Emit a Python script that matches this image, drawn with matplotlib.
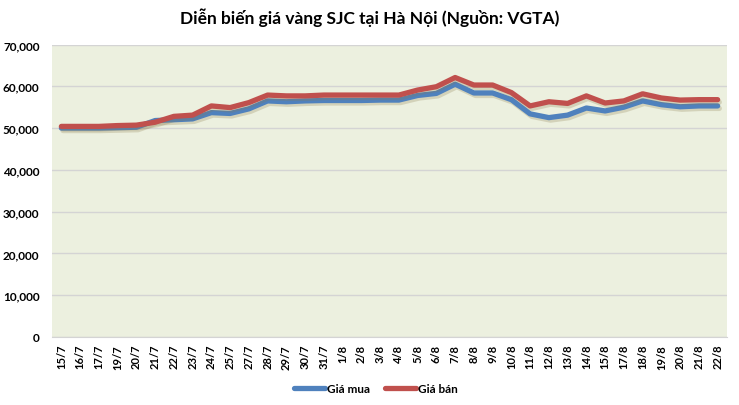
import matplotlib
matplotlib.use("Agg")
import matplotlib.pyplot as plt
import matplotlib.patheffects as pe
from matplotlib.ticker import FuncFormatter

plt.rcParams['font.family'] = ['Lato', 'Open Sans', 'DejaVu Sans']

dates = ["15/7", "16/7", "17/7", "19/7", "20/7", "21/7", "22/7", "23/7", "24/7", "25/7",
         "27/7", "28/7", "29/7", "30/7", "31/7", "1/8", "2/8", "3/8", "4/8", "5/8",
         "6/8", "7/8", "8/8", "9/8", "10/8", "11/8", "12/8", "13/8", "14/8", "15/8",
         "17/8", "18/8", "19/8", "20/8", "21/8", "22/8"]

gia_mua = [50000, 50000, 50000, 50100, 50200, 51800, 52000, 52200, 53700, 53500,
           54600, 56500, 56300, 56500, 56600, 56600, 56600, 56700, 56700, 57800,
           58300, 60500, 58400, 58400, 56800, 53400, 52500, 53100, 54800, 54100,
           55000, 56500, 55600, 55100, 55300, 55300]

gia_ban = [50400, 50400, 50400, 50600, 50700, 51400, 52800, 53100, 55300, 54900,
           56100, 57900, 57700, 57700, 57900, 57900, 57900, 57900, 57900, 59100,
           59900, 62100, 60300, 60300, 58500, 55300, 56300, 55900, 57700, 56000,
           56500, 58200, 57200, 56700, 56800, 56800]

title = "Diễn biến giá vàng SJC tại Hà Nội (Nguồn: VGTA)"
label_mua = "Giá mua"
label_ban = "Giá bán"

fig = plt.figure(figsize=(7.39, 4.06), dpi=100)
ax = fig.add_axes([52/739, 1 - 338/406, (727-52)/739, (338-45.5)/406])
ax.set_facecolor('#ECF0DF')

x = list(range(len(dates)))
shadow = [pe.SimpleLineShadow(offset=(1.2, -1.8), shadow_color='#8a7a4a', alpha=0.25),
          pe.Normal()]
ax.plot(x, gia_mua, color='#4F81BD', lw=3.8, label=label_mua,
        solid_capstyle='round', solid_joinstyle='round', path_effects=shadow, zorder=3)
ax.plot(x, gia_ban, color='#C0504D', lw=3.8, label=label_ban,
        solid_capstyle='round', solid_joinstyle='round', path_effects=shadow, zorder=4)

ax.set_xlim(-0.5, len(dates) - 0.5)
ax.set_ylim(0, 70000)
ax.set_yticks(range(0, 70001, 10000))
ax.yaxis.set_major_formatter(FuncFormatter(lambda v, p: f"{int(v):,}"))
ax.set_xticks(x)
ax.set_xticklabels(dates, rotation=90, fontsize=8, fontweight='bold')
for lbl in ax.get_yticklabels():
    lbl.set_fontsize(8.5)
    lbl.set_fontweight('bold')
ax.tick_params(axis='both', length=0, colors='black')
ax.tick_params(axis='y', pad=9)
ax.tick_params(axis='x', pad=5)
ax.grid(axis='y', color='#D4D4D4', lw=1)
ax.set_axisbelow(True)
for s in ['left', 'right', 'top']:
    ax.spines[s].set_visible(False)
ax.spines['bottom'].set_color('#D4D4D4')

fig.text(0.5, 1 - 18/406, title, ha='center', va='center', fontsize=12.5, fontweight='bold')

leg = fig.legend(loc='center', bbox_to_anchor=(376/739, 1 - 390/406), ncol=2, frameon=False,
                 handlelength=2.6, columnspacing=1.3, handletextpad=0.15,
                 prop={'weight': 'bold', 'size': 8.5})
for h in leg.get_lines():
    h.set_linewidth(3.8)
    h.set_path_effects([])

fig.savefig("out.png", dpi=100, facecolor='white')
